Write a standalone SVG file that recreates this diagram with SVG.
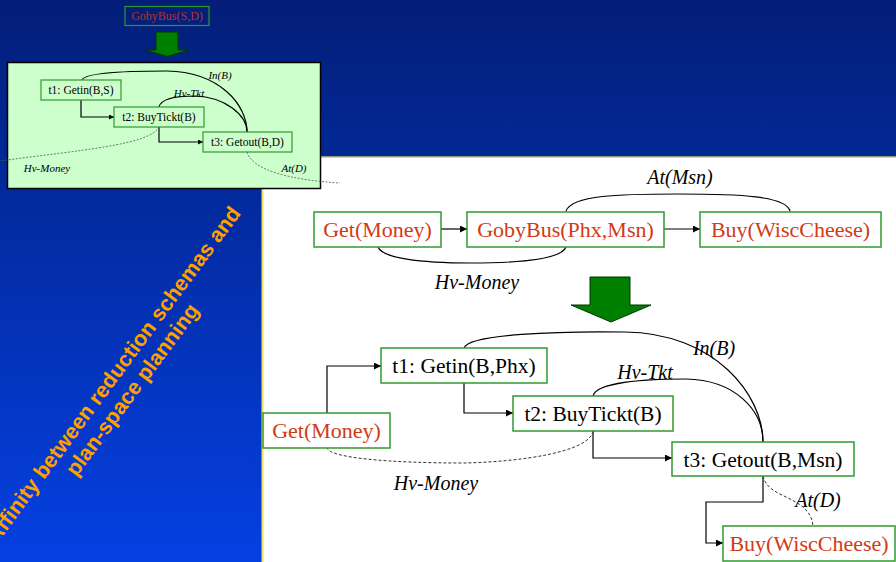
<svg xmlns="http://www.w3.org/2000/svg" width="896" height="562" viewBox="0 0 896 562">
  <defs>
    <linearGradient id="bg" x1="0" y1="0" x2="0" y2="1">
      <stop offset="0" stop-color="#041e78"/>
      <stop offset="0.28" stop-color="#022896"/>
      <stop offset="1" stop-color="#0540e2"/>
    </linearGradient>
    <marker id="ah" viewBox="0 0 10 10" refX="10" refY="5" markerWidth="7" markerHeight="7" markerUnits="userSpaceOnUse" orient="auto">
      <path d="M0,0 L10,5 L0,10 z" fill="#000"/>
    </marker>
    <marker id="ahs" viewBox="0 0 10 10" refX="10" refY="5" markerWidth="5" markerHeight="5" markerUnits="userSpaceOnUse" orient="auto">
      <path d="M0,0 L10,5 L0,10 z" fill="#000"/>
    </marker>
  </defs>
  <style>
    .box { fill: #fff; stroke: #2f9a2f; stroke-width: 1.5; }
    .sbox { fill: none; stroke: #2f9a2f; stroke-width: 1.2; }
    .ibox { fill: #ccffcc; stroke: #2f9a2f; stroke-width: 1.2; }
    .t { font-family: "Liberation Serif", "Times New Roman", serif; font-size: 21.5px; text-anchor: middle; fill: #000; }
    .r { font-family: "Liberation Serif", "Times New Roman", serif; font-size: 22px; text-anchor: middle; fill: #d23a14; }
    .lab { font-family: "Liberation Serif", "Times New Roman", serif; font-size: 20px; font-style: italic; text-anchor: middle; fill: #000; }
    .st { font-family: "Liberation Serif", "Times New Roman", serif; font-size: 11.5px; text-anchor: middle; fill: #000; }
    .sl { font-family: "Liberation Serif", "Times New Roman", serif; font-size: 11px; font-style: italic; text-anchor: middle; fill: #000; }
    .c { fill: none; stroke: #000; stroke-width: 1.2; }
    .d { fill: none; stroke: #333; stroke-width: 1; stroke-dasharray: 3 2; }
    .sd { fill: none; stroke: #555; stroke-width: 0.8; stroke-dasharray: 2 1.5; }
    .arr { fill: #008000; stroke: #003300; stroke-width: 1; }
    .title { font-family: "Liberation Sans", Arial, sans-serif; font-size: 21.5px; font-weight: bold; fill: #ffa000; text-anchor: middle; }
  </style>

  <rect x="0" y="0" width="896" height="562" fill="url(#bg)"/>
  <rect x="262" y="157" width="634" height="405" fill="#ffffff"/>
  <line x1="262" y1="157" x2="896" y2="157" stroke="#c8c080" stroke-width="1.5"/>
  <line x1="262.5" y1="157" x2="262.5" y2="562" stroke="#f0e060" stroke-width="2"/>

  <g id="title">
    <text class="title" transform="translate(119,379) rotate(-53.5)">Affinity between reduction schemas and</text>
    <text class="title" transform="translate(138,394) rotate(-53.5)">plan-space planning</text>
  </g>

  <!-- inset -->
  <g id="inset-gobybus">
    <rect class="sbox" x="125" y="6.5" width="84" height="19"/>
    <text x="167" y="20" font-family="Liberation Serif, serif" font-size="12" text-anchor="middle" fill="#b8301c">GobyBus(S,D)</text>
  </g>
  <g id="inset-arrow">
    <path class="arr" d="M156,32 H178 V50 H189 L167,56.5 L145,50 H156 Z"/>
  </g>
  <g id="inset-panel">
    <rect x="7.5" y="62.5" width="313" height="126" fill="#ccffcc" stroke="#000" stroke-width="1.5"/>
  </g>
  <g id="inset-connectors">
    <path class="c" d="M81,100 V117 H114" marker-end="url(#ahs)"/>
    <path class="c" d="M159,127 V142 H203" marker-end="url(#ahs)"/>
    <path class="c" d="M82,80 C85,72 130,71 167,71 C220,72 247,105 247,132"/>
    <path class="c" d="M159,107 C161,98 180,96 195,96 C225,97 247,115 247,132"/>
    <path class="sd" d="M159,127 C150,145 80,150 0,161"/>
    <path class="sd" d="M247,152 C252,170 290,180 340,183"/>
    <text class="sl" x="220" y="79">In(B)</text>
    <text class="sl" x="189" y="97">Hv-Tkt</text>
    <text class="sl" x="47" y="172">Hv-Money</text>
    <text class="sl" x="294" y="172">At(D)</text>
  </g>
  <g id="inset-t1">
    <rect class="ibox" x="41" y="80" width="80" height="20"/>
    <text class="st" x="81" y="94">t1: Getin(B,S)</text>
  </g>
  <g id="inset-t2">
    <rect class="ibox" x="114" y="107" width="90" height="20"/>
    <text class="st" x="159" y="121">t2: BuyTickt(B)</text>
  </g>
  <g id="inset-t3">
    <rect class="ibox" x="203" y="132" width="89" height="20"/>
    <text class="st" x="247.5" y="146">t3: Getout(B,D)</text>
  </g>

  <!-- main connectors -->
  <g id="connectors">
    <line class="c" x1="441" y1="229" x2="467" y2="229" marker-end="url(#ah)"/>
    <line class="c" x1="664" y1="229" x2="700" y2="229" marker-end="url(#ah)"/>
    <path class="c" d="M566,211 C572,195 620,194 678,194 C740,194 786,196 790,211"/>
    <path class="c" d="M378,247 C382,258 420,263 470,263 C530,263 562,258 566,247"/>
    <text class="lab" x="680" y="184">At(Msn)</text>
    <text class="lab" x="477" y="289">Hv-Money</text>

    <path class="c" d="M327,413 V366 H381" marker-end="url(#ah)"/>
    <path class="c" d="M464,383 V413 H513" marker-end="url(#ah)"/>
    <path class="c" d="M593,431 V458 H672" marker-end="url(#ah)"/>
    <path class="c" d="M763,476 V502 H706 V543 H723" marker-end="url(#ah)"/>
    <path class="c" d="M464,348 C468,334 560,331 625,332 C715,333 763,395 763,442"/>
    <path class="c" d="M593,396 C596,383 640,379 686,379 C735,380 763,410 763,442"/>
    <path class="d" d="M593,431 C590,452 520,462 463,463 C390,463 330,458 327,448"/>
    <path class="d" d="M763,476 C768,500 810,495 813,526"/>
    <text class="lab" x="714" y="355">In(B)</text>
    <text class="lab" x="645" y="379">Hv-Tkt</text>
    <text class="lab" x="436" y="490">Hv-Money</text>
    <text class="lab" x="818" y="507">At(D)</text>
  </g>

  <g id="big-arrow">
    <path class="arr" d="M590,277 H630 V305 H651 L611,322 L571,305 H590 Z"/>
  </g>

  <g id="get-money-1">
    <rect class="box" x="314" y="212" width="127" height="35"/>
    <text class="r" x="377.5" y="237">Get(Money)</text>
  </g>
  <g id="gobybus">
    <rect class="box" x="467" y="212" width="197" height="35"/>
    <text class="r" x="565.5" y="237">GobyBus(Phx,Msn)</text>
  </g>
  <g id="buy-1">
    <rect class="box" x="700" y="212" width="181" height="35"/>
    <text class="r" x="790.5" y="237">Buy(WiscCheese)</text>
  </g>

  <g id="get-money-2">
    <rect class="box" x="263" y="413" width="127" height="35"/>
    <text class="r" x="326.5" y="438">Get(Money)</text>
  </g>
  <g id="t1">
    <rect class="box" x="381" y="348" width="166" height="35"/>
    <text class="t" x="464" y="373">t1: Getin(B,Phx)</text>
  </g>
  <g id="t2">
    <rect class="box" x="513" y="396" width="160" height="35"/>
    <text class="t" x="593" y="421">t2: BuyTickt(B)</text>
  </g>
  <g id="t3">
    <rect class="box" x="672" y="442" width="182" height="34"/>
    <text class="t" x="763" y="467">t3: Getout(B,Msn)</text>
  </g>
  <g id="buy-2">
    <rect class="box" x="723" y="526" width="172" height="35"/>
    <text class="r" x="809" y="551">Buy(WiscCheese)</text>
  </g>
</svg>
